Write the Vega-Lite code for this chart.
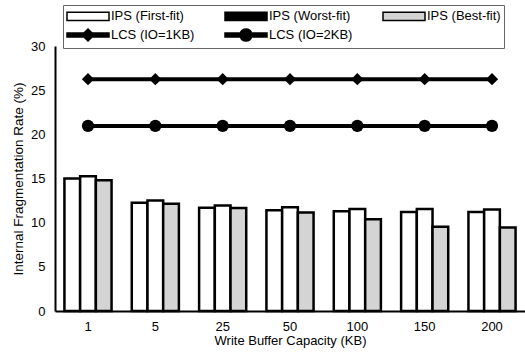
{
  "$schema": "https://vega.github.io/schema/vega-lite/v6.json",
  "width": 470,
  "height": 265,
  "autosize": "none",
  "padding": {"left": 55, "top": 46, "right": 0, "bottom": 41},
  "config": {
    "view": {"stroke": null},
    "font": "Liberation Sans",
    "axis": {"grid": false, "ticks": false, "domainColor": "black", "domainWidth": 2, "labelFontSize": 13, "labelColor": "black", "labelFont": "Liberation Sans", "titleFont": "Liberation Sans", "titleFontSize": 13.5, "titleFontWeight": "normal", "titleColor": "black", "labelPadding": 10, "titlePadding": 5}
  },
  "datasets": {
    "bars": [
      {"cap": "1", "series": "IPS (First-fit)", "value": 15.0},
      {"cap": "1", "series": "IPS (Worst-fit)", "value": 15.25},
      {"cap": "1", "series": "IPS (Best-fit)", "value": 14.8},
      {"cap": "5", "series": "IPS (First-fit)", "value": 12.25},
      {"cap": "5", "series": "IPS (Worst-fit)", "value": 12.5},
      {"cap": "5", "series": "IPS (Best-fit)", "value": 12.15},
      {"cap": "25", "series": "IPS (First-fit)", "value": 11.7},
      {"cap": "25", "series": "IPS (Worst-fit)", "value": 11.95},
      {"cap": "25", "series": "IPS (Best-fit)", "value": 11.65},
      {"cap": "50", "series": "IPS (First-fit)", "value": 11.4},
      {"cap": "50", "series": "IPS (Worst-fit)", "value": 11.75},
      {"cap": "50", "series": "IPS (Best-fit)", "value": 11.15},
      {"cap": "100", "series": "IPS (First-fit)", "value": 11.3},
      {"cap": "100", "series": "IPS (Worst-fit)", "value": 11.55},
      {"cap": "100", "series": "IPS (Best-fit)", "value": 10.4},
      {"cap": "150", "series": "IPS (First-fit)", "value": 11.2},
      {"cap": "150", "series": "IPS (Worst-fit)", "value": 11.55},
      {"cap": "150", "series": "IPS (Best-fit)", "value": 9.55},
      {"cap": "200", "series": "IPS (First-fit)", "value": 11.2},
      {"cap": "200", "series": "IPS (Worst-fit)", "value": 11.5},
      {"cap": "200", "series": "IPS (Best-fit)", "value": 9.45}
    ],
    "lines": [
      {"cap": "1", "series": "LCS (IO=1KB)", "value": 26.25},
      {"cap": "5", "series": "LCS (IO=1KB)", "value": 26.25},
      {"cap": "25", "series": "LCS (IO=1KB)", "value": 26.25},
      {"cap": "50", "series": "LCS (IO=1KB)", "value": 26.25},
      {"cap": "100", "series": "LCS (IO=1KB)", "value": 26.25},
      {"cap": "150", "series": "LCS (IO=1KB)", "value": 26.25},
      {"cap": "200", "series": "LCS (IO=1KB)", "value": 26.25},
      {"cap": "1", "series": "LCS (IO=2KB)", "value": 20.95},
      {"cap": "5", "series": "LCS (IO=2KB)", "value": 20.95},
      {"cap": "25", "series": "LCS (IO=2KB)", "value": 20.95},
      {"cap": "50", "series": "LCS (IO=2KB)", "value": 20.95},
      {"cap": "100", "series": "LCS (IO=2KB)", "value": 20.95},
      {"cap": "150", "series": "LCS (IO=2KB)", "value": 20.95},
      {"cap": "200", "series": "LCS (IO=2KB)", "value": 20.95}
    ]
  },
  "layer": [
    {
      "data": {"name": "bars"},
      "mark": {"type": "bar", "stroke": "black", "strokeWidth": 2.5},
      "encoding": {
        "x": {"field": "cap", "type": "ordinal", "sort": ["1", "5", "25", "50", "100", "150", "200"], "scale": {"paddingInner": 0.3, "paddingOuter": 0.14}, "axis": {"title": "Write Buffer Capacity (KB)", "labelAngle": 0, "labelPadding": 9, "titlePadding": 1, "titleFontSize": 13}},
        "xOffset": {"field": "series", "type": "nominal", "sort": ["IPS (First-fit)", "IPS (Worst-fit)", "IPS (Best-fit)"], "scale": {"paddingInner": 0, "paddingOuter": 0}},
        "y": {"field": "value", "type": "quantitative", "scale": {"domain": [0, 30]}, "axis": {"title": "Internal Fragmentation Rate (%)", "values": [0, 5, 10, 15, 20, 25, 30]}},
        "color": {
          "condition": {"test": "datum.series === 'IPS (Worst-fit)'", "value": "white"},
          "field": "series", "type": "nominal",
          "scale": {"domain": ["IPS (First-fit)", "IPS (Worst-fit)", "IPS (Best-fit)", "LCS (IO=1KB)", "LCS (IO=2KB)"], "range": ["white", "black", "#d4d4d4", "black", "black"]},
          "legend": {
            "orient": "none", "legendX": 8, "legendY": -41, "title": null, "columns": 3, "direction": "horizontal", "gridAlign": "all",
            "symbolSize": 144, "symbolOffset": 15, "labelOffset": 16, "labelFontSize": 13, "labelFont": "Liberation Sans", "labelColor": "black",
            "strokeColor": "#666", "padding": 3, "columnPadding": 27, "rowPadding": 0,
            "encode": {"symbols": {"stroke": {"value": "black"}, "strokeWidth": {"value": 1.8}, "opacity": {"value": 1}, "fillOpacity": {"value": 1}}}
          }
        }
      }
    },
    {
      "data": {"name": "bars"},
      "transform": [{"filter": "datum.value > 100"}],
      "mark": {"type": "point", "filled": true, "opacity": 0},
      "encoding": {
        "x": {"field": "cap", "type": "ordinal", "sort": ["1", "5", "25", "50", "100", "150", "200"]},
        "y": {"field": "value", "type": "quantitative"},
        "color": {"field": "series", "type": "nominal"},
        "shape": {
          "field": "series", "type": "nominal",
          "scale": {"domain": ["IPS (First-fit)", "IPS (Worst-fit)", "IPS (Best-fit)", "LCS (IO=1KB)", "LCS (IO=2KB)"],
            "range": ["M-3.5,-0.7H3.5V0.7H-3.5Z", "M-3.5,-0.7H3.5V0.7H-3.5Z", "M-3.5,-0.7H3.5V0.7H-3.5Z", "M-3.5,-0.33H-0.67L0,-1L0.67,-0.33H3.5V0.33H0.67L0,1L-0.67,0.33H-3.5Z", "M-3.5,-0.33H-0.944A1,1 0 0 1 0.944,-0.33H3.5V0.33H0.944A1,1 0 0 1 -0.944,0.33H-3.5Z"]},
          "legend": {
            "orient": "none", "legendX": 8, "legendY": -41, "title": null, "columns": 3, "direction": "horizontal", "gridAlign": "all",
            "symbolSize": 144, "symbolOffset": 15, "labelOffset": 16, "labelFontSize": 13, "labelFont": "Liberation Sans", "labelColor": "black",
            "strokeColor": "#666", "padding": 3, "columnPadding": 27, "rowPadding": 0,
            "encode": {"symbols": {"stroke": {"value": "black"}, "strokeWidth": {"value": 1.8}, "opacity": {"value": 1}, "fillOpacity": {"value": 1}}}
          }
        }
      }
    },
    {
      "data": {"name": "lines"},
      "mark": {"type": "line", "strokeWidth": 4, "color": "black"},
      "encoding": {
        "x": {"field": "cap", "type": "ordinal", "sort": ["1", "5", "25", "50", "100", "150", "200"]},
        "y": {"field": "value", "type": "quantitative"},
        "detail": {"field": "series", "type": "nominal"}
      }
    },
    {
      "data": {"name": "lines"},
      "transform": [{"filter": "datum.series === 'LCS (IO=1KB)'"}],
      "mark": {"type": "point", "filled": true, "size": 150, "opacity": 1, "color": "black", "shape": "diamond"},
      "encoding": {
        "x": {"field": "cap", "type": "ordinal", "sort": ["1", "5", "25", "50", "100", "150", "200"]},
        "y": {"field": "value", "type": "quantitative"}
      }
    },
    {
      "data": {"name": "lines"},
      "transform": [{"filter": "datum.series === 'LCS (IO=2KB)'"}],
      "mark": {"type": "point", "filled": true, "size": 150, "opacity": 1, "color": "black", "shape": "circle"},
      "encoding": {
        "x": {"field": "cap", "type": "ordinal", "sort": ["1", "5", "25", "50", "100", "150", "200"]},
        "y": {"field": "value", "type": "quantitative"}
      }
    }
  ]
}
